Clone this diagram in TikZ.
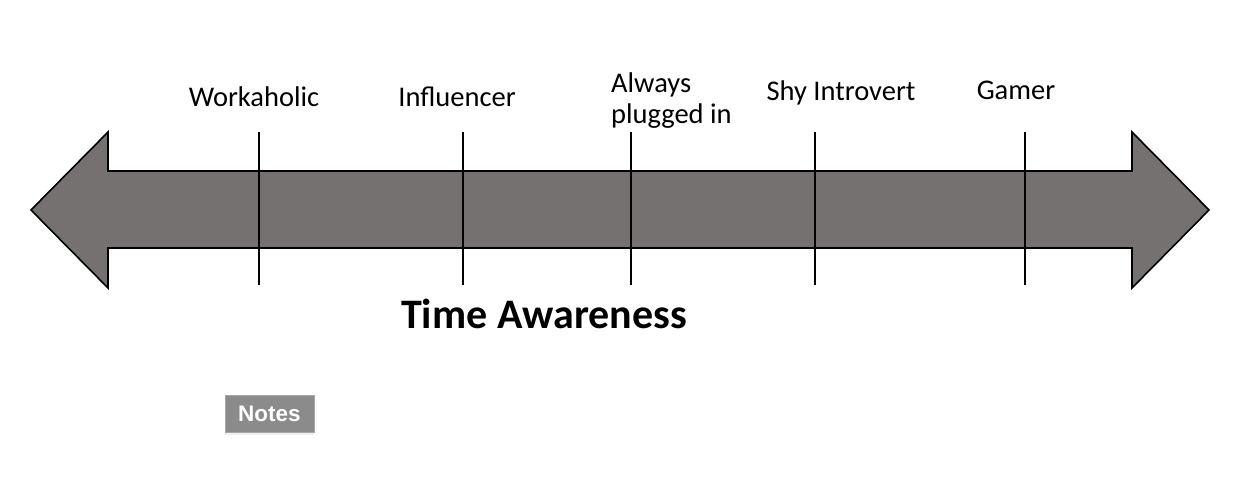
\documentclass[tikz,border=0pt]{standalone}
\usepackage{fontspec}
\setmainfont{Carlito}
\newfontfamily\notesfont{Liberation Sans}
\usetikzlibrary{positioning,shadows}
\definecolor{bargray}{HTML}{767171}
\definecolor{notegray}{HTML}{8B8B8B}
\tikzset{
  persona/.style={inner sep=0pt,anchor=base,font=\fontsize{28.5}{31}\selectfont},
  timebar/.style={draw=black,line width=1.6pt,fill=bargray,line join=miter},
  timetick/.style={draw=black,line width=1.6pt},
  notesbtn/.style={rectangle,draw=gray!70,fill=notegray,text=white,line width=0.8pt,
    minimum width=89pt,minimum height=37pt,inner sep=0pt,
    font=\notesfont\bfseries\fontsize{22.5}{26}\selectfont,
    drop shadow={opacity=0.12,shadow xshift=0pt,shadow yshift=-3pt}}
}
\begin{document}
\begin{tikzpicture}[x=1pt,y=-1pt]
\useasboundingbox (0,0) rectangle (1256,496);
% double headed bar
\draw[timebar] (31,210) -- (108,132) -- (108,171) -- (1132,171) -- (1132,132)
  -- (1209,210) -- (1132,288) -- (1132,248) -- (108,248) -- (108,288) -- cycle;
% ticks and their labels
\foreach \x/\n in {259/work,463/infl,631/plug,815/shy,1025/gamer}{
  \coordinate (\n-top) at (\x,132);
  \coordinate (\n-bot) at (\x,285);
  \draw[timetick] (\n-top) -- (\n-bot);
}
\node[persona] (workaholic) at (254,106) {Workaholic};
\node[persona] (influencer) at (457,106) {Influencer};
\node[persona,anchor=base west,align=left] (plugged) at (611,123) {Always\\plugged in};
\node[persona] (introvert) at (841,100) {Shy Introvert};
\node[persona] (gamer) at (1016,99) {Gamer};
\node[inner sep=0pt,anchor=base,font=\bfseries\fontsize{42}{48}\selectfont] (title) at (544,328) {Time Awareness};
\node[notesbtn] (notes) at (269.5,413.5) {Notes};
\end{tikzpicture}
\end{document}
